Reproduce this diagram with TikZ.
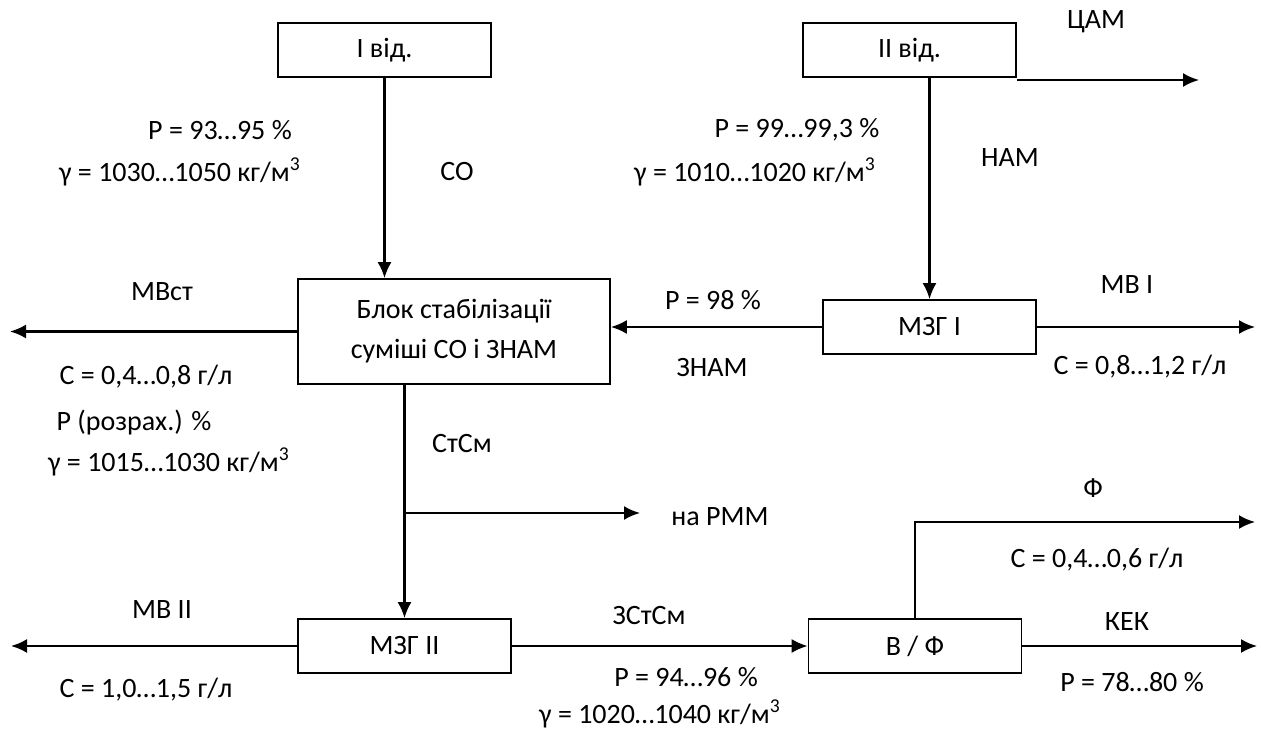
\documentclass[tikz,border=0pt]{standalone}
\usepackage{fontspec}
\setmainfont{Carlito}
\usepackage{tikz}
\usetikzlibrary{calc,arrows.meta}

\begin{document}
\begin{tikzpicture}[x=0.5pt, y=-0.5pt,
        every node/.style={font=\fontsize{14}{17}\selectfont},
        blok/.style={draw, line width=0.85pt, minimum width=106.5pt, minimum height=27pt, inner sep=0pt},
        napys/.style={inner sep=0pt, outer sep=0pt},
        potik/.style={line width=1.1pt, -{Latex[length=8pt, width=7pt]}}]
        \useasboundingbox (0,0) rectangle (1262,731);
        % aparaty
        \node[blok] (otd1) at (384.5, 50) {І від.};
        \node[blok] (otd2) at (909.5, 50) {ІІ від.};
        \node[blok, minimum width=156pt, minimum height=52.5pt, align=center] (stab) at (454, 331.5) {Блок стабілізації\\[3pt]суміші СО і ЗНАМ};
        \node[blok] (mzg1) at (929.5, 327) {МЗГ І};
        \node[blok] (mzg2) at (404.5, 646) {МЗГ ІІ};
        \node[blok] (vf) at (915, 646) {В / Ф};
        % vilni kintsi
        \coordinate (cam) at (1199, 80);
        \coordinate (mvst) at (10, 331.5);
        \coordinate (mv1) at (1255, 327);
        \coordinate (mv2) at (11, 646);
        \coordinate (rozg) at (404.5, 513);
        \coordinate (rmm) at (640, 513);
        \coordinate (fil) at (1255, 522);
        \coordinate (kek) at (1257, 646);
        % potoky
        \draw[potik] (otd2.south east |- cam) -- (cam);
        \draw[potik] (otd1.south) -- (otd1.south |- stab.north);
        \draw[potik] (mzg1.north |- otd2.south) -- (mzg1.north);
        \draw[potik] (mzg1.west) -- (stab.east |- mzg1.west);
        \draw[potik] (stab.west) -- (mvst);
        \draw[potik] (mzg1.east) -- (mv1);
        \draw[potik] (stab.south -| mzg2.north) -- (mzg2.north);
        \draw[potik] (rozg) -- (rmm);
        \draw[potik] (mzg2.west) -- (mv2);
        \draw[potik] (mzg2.east) -- (vf.west);
        \draw[potik] (vf.east) -- (kek);
        \draw[potik] (vf.north) |- (fil);
        % pidpysy
        \node[napys] (tcam) at (1096, 22) {ЦАМ};
        \node[napys] (p1) at (220, 130) {Р = 93…95 \%};
        \node[napys] (g1) at (180, 172) {γ = 1030…1050 кг/м\textsuperscript{3}};
        \node[napys] (tso) at (457, 172) {СО};
        \node[napys] (p2) at (797, 130) {Р = 99…99,3 \%};
        \node[napys] (g2) at (755, 172) {γ = 1010…1020 кг/м\textsuperscript{3}};
        \node[napys] (tnam) at (1010, 158) {НАМ};
        \node[napys] (tmvst) at (162, 292) {МВст};
        \node[napys] (p3) at (713, 300) {Р = 98 \%};
        \node[napys] (tznam) at (712, 368) {ЗНАМ};
        \node[napys] (tmv1) at (1127, 285) {МВ І};
        \node[napys] (c1) at (1140, 367) {С = 0,8…1,2 г/л};
        \node[napys] (c2) at (146, 377) {С = 0,4…0,8 г/л};
        \node[napys] (p4) at (134, 423) {Р (розрах.) \%};
        \node[napys] (g3) at (169, 462) {γ = 1015…1030 кг/м\textsuperscript{3}};
        \node[napys] (tstsm) at (462, 444) {СтСм};
        \node[napys] (trmm) at (720, 517) {на РММ};
        \node[napys] (tf) at (1093, 488) {Ф};
        \node[napys] (c3) at (1097, 560) {С = 0,4…0,6 г/л};
        \node[napys] (tmv2) at (162, 610) {МВ ІІ};
        \node[napys] (tzstsm) at (649, 616) {ЗСтСм};
        \node[napys] (tkek) at (1127, 622) {КЕК};
        \node[napys] (c4) at (146, 690) {С = 1,0…1,5 г/л};
        \node[napys] (p5) at (686, 677) {Р = 94…96 \%};
        \node[napys] (p6) at (1132, 682) {Р = 78…80 \%};
        \node[napys] (g4) at (660, 714) {γ = 1020…1040 кг/м\textsuperscript{3}};
\end{tikzpicture}
\end{document}
